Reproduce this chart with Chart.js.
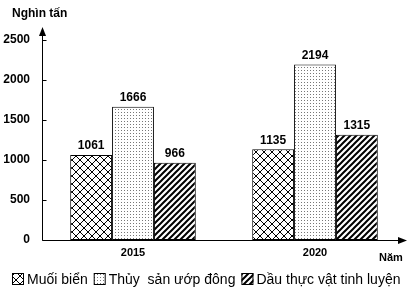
<!DOCTYPE html>
<html>
<head>
<meta charset="utf-8">
<script src="https://cdn.jsdelivr.net/npm/chart.js@4"></script>
<style>
  html, body { margin: 0; padding: 0; background: #fff; }
  #wrap { width: 411px; height: 289px; position: relative; }
</style>
</head>
<body>
<div id="wrap"><canvas id="chart"></canvas></div>
<script>
// Dữ liệu
const nam = ['2015', '2020'];
const muoiBien = [1061, 1135];
const thuySan = [1666, 2194];
const dauThucVat = [966, 1315];
const tenSeries = ['Muối biển', 'Thủy  sản ướp đông', 'Dầu thực vật tinh luyện'];
const yTicks = [0, 500, 1000, 1500, 2000, 2500];

const FONT = '"Liberation Sans", Arial, sans-serif';

// --- Hoa văn ---
function taoTile(size, ve) {
  const c = document.createElement('canvas');
  c.width = size; c.height = size;
  const g = c.getContext('2d');
  g.fillStyle = '#fff';
  g.fillRect(0, 0, size, size);
  ve(g, size);
  return document.getElementById('chart').getContext('2d').createPattern(c, 'repeat');
}

// đan chéo (muối biển)
const hvMuoi = taoTile(8, (g, s) => {
  g.strokeStyle = '#000';
  g.lineWidth = 1;
  g.beginPath();
  g.moveTo(0, s); g.lineTo(s, 0);
  g.moveTo(-s / 2, s / 2); g.lineTo(s / 2, -s / 2);
  g.moveTo(s / 2, s * 1.5); g.lineTo(s * 1.5, s / 2);
  g.moveTo(0, 0); g.lineTo(s / 2, s / 2);
  g.moveTo(s / 2, s / 2); g.lineTo(s, s);
  g.stroke();
});

// chấm (thủy sản)
const hvThuySan = taoTile(3, (g) => {
  g.fillStyle = '#777';
  g.fillRect(1, 1, 1, 1);
});

// sọc chéo (dầu)
const hvDau = taoTile(6, (g, s) => {
  g.strokeStyle = '#000';
  g.lineWidth = 2;
  g.beginPath();
  g.moveTo(-1, s + 1); g.lineTo(s + 1, -1);
  g.moveTo(-1, 1); g.lineTo(1, -1);
  g.moveTo(s - 1, s + 1); g.lineTo(s + 1, s - 1);
  g.stroke();
});

const hoaVan = [hvMuoi, hvThuySan, hvDau];

// --- Plugin: trục có mũi tên, nhãn giá trị, tiêu đề trục, chú giải ---
const trucMuiTen = {
  id: 'trucMuiTen',
  afterDatasetsDraw(chart) {
    const { ctx, chartArea: a, scales: { y } } = chart;
    ctx.save();
    ctx.strokeStyle = '#000';
    ctx.fillStyle = '#000';
    ctx.lineWidth = 1;
    const x0 = Math.round(a.left) + 0.5;
    const y0 = Math.round(a.bottom) + 0.5;
    // trục y
    ctx.beginPath();
    ctx.moveTo(x0, y0);
    ctx.lineTo(x0, 33);
    ctx.stroke();
    ctx.beginPath();
    ctx.moveTo(x0, 27);
    ctx.lineTo(x0 - 3.5, 36);
    ctx.lineTo(x0 + 3.5, 36);
    ctx.closePath();
    ctx.fill();
    // vạch chia
    yTicks.forEach(v => {
      const py = Math.round(y.getPixelForValue(v)) + 0.5;
      ctx.beginPath();
      ctx.moveTo(x0, py);
      ctx.lineTo(x0 + 4, py);
      ctx.stroke();
    });
    // trục x
    ctx.beginPath();
    ctx.moveTo(x0, y0);
    ctx.lineTo(400, y0);
    ctx.stroke();
    ctx.beginPath();
    ctx.moveTo(407, y0);
    ctx.lineTo(398, y0 - 3.5);
    ctx.lineTo(398, y0 + 3.5);
    ctx.closePath();
    ctx.fill();
    // tiêu đề trục
    ctx.font = 'bold 12px ' + FONT;
    ctx.textAlign = 'left';
    ctx.textBaseline = 'middle';
    ctx.fillText('Nghìn tấn', 12, 14);
    ctx.font = 'bold 11px ' + FONT;
    ctx.fillText('Năm', 379, 258);
    // nhãn giá trị
    ctx.font = 'bold 12px ' + FONT;
    ctx.textAlign = 'center';
    ctx.textBaseline = 'bottom';
    chart.data.datasets.forEach((ds, i) => {
      chart.getDatasetMeta(i).data.forEach((bar, j) => {
        ctx.fillText(ds.data[j], bar.x, bar.y - 3);
      });
    });
    // chú giải
    ctx.font = '14px ' + FONT;
    ctx.textAlign = 'left';
    ctx.textBaseline = 'middle';
    let lx = 12;
    const ly = 273;
    chart.data.datasets.forEach((ds, i) => {
      ctx.fillStyle = hoaVan[i];
      ctx.fillRect(lx, ly, 12, 12);
      ctx.strokeStyle = '#000';
      ctx.strokeRect(lx + 0.5, ly + 0.5, 11, 11);
      ctx.fillStyle = '#000';
      ctx.fillText(ds.label, lx + 15, ly + 7);
      lx += 15 + ctx.measureText(ds.label).width + 6;
    });
    ctx.restore();
  }
};

const chung = { borderColor: '#000', borderWidth: 1, borderSkipped: false, barPercentage: 1, categoryPercentage: 0.69 };

new Chart(document.getElementById('chart'), {
  type: 'bar',
  data: {
    labels: nam,
    datasets: [
      { label: tenSeries[0], data: muoiBien, backgroundColor: hvMuoi, ...chung },
      { label: tenSeries[1], data: thuySan, backgroundColor: hvThuySan, ...chung },
      { label: tenSeries[2], data: dauThucVat, backgroundColor: hvDau, ...chung }
    ]
  },
  options: {
    responsive: true,
    maintainAspectRatio: false,
    animation: false,
    layout: { padding: { top: 40, right: 5, left: 0, bottom: 27 } },
    plugins: {
      tooltip: { enabled: false },
      legend: { display: false }
    },
    scales: {
      x: {
        grid: { display: false, drawTicks: false },
        border: { display: false },
        ticks: {
          color: '#000',
          padding: 6,
          font: { family: FONT, size: 11, weight: 'bold' }
        },
        afterFit: s => { s.height = 22; }
      },
      y: {
        min: 0,
        max: 2500,
        grid: { display: false, drawTicks: false },
        border: { display: false },
        afterBuildTicks: s => { s.ticks = yTicks.map(v => ({ value: v })); },
        ticks: {
          color: '#000',
          padding: 12,
          callback: v => String(v),
          font: { family: FONT, size: 12, weight: 'bold' }
        },
        afterFit: s => { s.width = 42; }
      }
    }
  },
  plugins: [trucMuiTen]
});
</script>
</body>
</html>
